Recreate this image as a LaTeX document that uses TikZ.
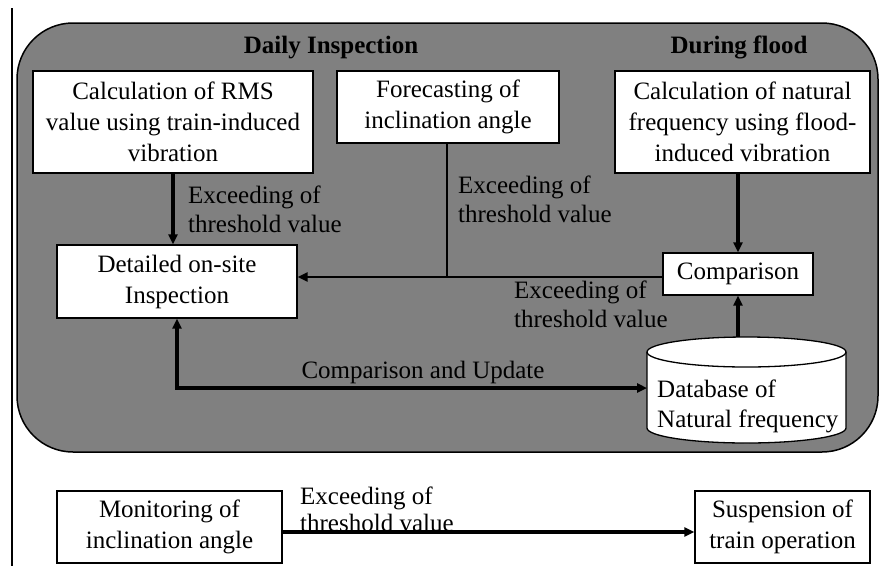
\documentclass[tikz,border=0pt]{standalone}
\usepackage{fontspec}
\setmainfont{Liberation Serif}
\usetikzlibrary{arrows.meta}
\definecolor{panel}{RGB}{128,128,128}
\tikzset{
  box/.style={draw=black, line width=1.3pt, fill=white, inner sep=0pt, align=center,
    font=\fontsize{25}{31}\selectfont},
  lbl/.style={inner sep=0pt, align=left, font=\fontsize{25}{29}\selectfont},
  ttl/.style={inner sep=0pt, font=\fontsize{25}{30}\selectfont\bfseries},
  thickarrow/.style={line width=3.5pt, -{Triangle[length=10pt,width=9pt]}},
  dblarrow/.style={line width=3.5pt, {Triangle[length=10pt,width=9pt]}-{Triangle[length=10pt,width=9pt]}},
  midarrow/.style={line width=2.2pt, -{Triangle[length=10pt,width=9pt]}},
}
\begin{document}
\begin{tikzpicture}[x=1pt,y=-1pt]
\useasboundingbox (0,0) rectangle (879,566);
% left rule
\draw[line width=1.2pt] (12,8) -- (12,566);
% panel
\draw[line width=1.5pt, fill=panel, rounded corners=56pt] (17,23) rectangle (878,452);
\node[ttl, anchor=base] (t1) at (331,53) {Daily Inspection};
\node[ttl, anchor=base] (t2) at (739,53) {During flood};
% boxes
\node[box, minimum width=280pt, minimum height=102pt] (rms) at (173,122) {Calculation of RMS\\value using train-induced\\vibration};
\node[box, minimum width=222pt, minimum height=72pt] (fc) at (448,107) {Forecasting of\\inclination angle};
\node[box, minimum width=255pt, minimum height=102pt] (nf) at (742.5,122) {Calculation of natural\\frequency using flood-\\induced vibration};
\node[box, minimum width=240pt, minimum height=73pt] (det) at (177,281.5) {Detailed on-site\\Inspection};
\node[box, minimum width=150pt, minimum height=42pt] (cmp) at (738,274) {Comparison};
% database cylinder
\node[minimum width=199pt, minimum height=106pt, inner sep=0pt] (db) at (746.5,390) {};
\draw[line width=1.3pt, fill=white] (647,352) -- (647,428)
  arc[start angle=180, end angle=360, x radius=99.5pt, y radius=15pt] -- (846,352)
  arc[start angle=0, end angle=180, x radius=99.5pt, y radius=15pt] -- cycle;
\draw[line width=1.3pt] (647,352) arc[start angle=180, end angle=360, x radius=99.5pt, y radius=15pt];
\node[lbl, anchor=base west] (dbt1) at (657,397) {Database of};
\node[lbl, anchor=base west] (dbt2) at (657,427) {Natural frequency};
% connectors inside panel
\draw[thickarrow] (rms.south) -- (rms.south |- det.north);
\node[lbl, anchor=base west] (l1) at (188,203) {Exceeding of};
\node[lbl, anchor=base west] (l1b) at (188,232) {threshold value};
\coordinate (j) at (447,277);
\draw[line width=2pt] (fc.south -| j) -- (j);
\draw[midarrow] (j -| cmp.west) -- (j -| det.east);
\node[lbl, anchor=base west] (l2) at (458,193) {Exceeding of};
\node[lbl, anchor=base west] (l2b) at (458,222) {threshold value};
\node[lbl, anchor=base west] (l3) at (514,298) {Exceeding of};
\node[lbl, anchor=base west] (l3b) at (514,327) {threshold value};
\draw[thickarrow] (nf.south -| cmp.north) -- (cmp.north);
\draw[thickarrow] (cmp.south |- db.north) -- (cmp.south);
\coordinate (cu) at (647,388);
\draw[dblarrow] (det.south) |- (cu);
\node[lbl, anchor=base] (l4) at (423,378) {Comparison and Update};
% bottom row
\node[box, minimum width=225pt, minimum height=72pt] (mon) at (169.5,527) {Monitoring of\\inclination angle};
\node[box, minimum width=175pt, minimum height=72pt] (sus) at (782.5,527) {Suspension of\\train operation};
\draw[thickarrow] (mon.east |- 0,532) -- (sus.west |- 0,532);
\node[lbl, anchor=base west] (l5) at (300,504) {Exceeding of};
\node[lbl, anchor=base west] (l5b) at (300,531) {threshold value};
\end{tikzpicture}
\end{document}
